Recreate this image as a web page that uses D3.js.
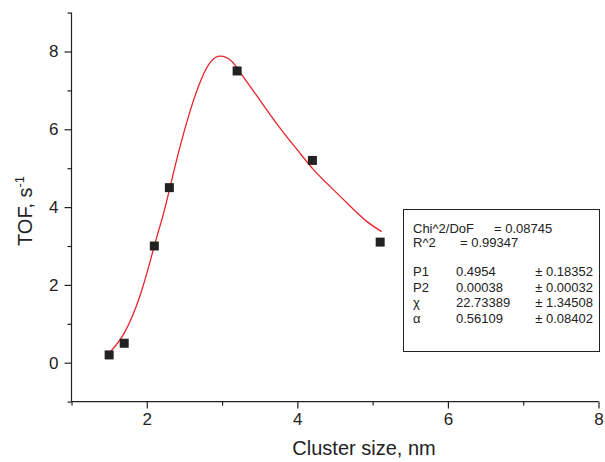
<!DOCTYPE html>
<meta charset="utf-8">
<style>
body { margin: 0; background: #fff; }
svg { display: block; font-family: "Liberation Sans", Arial, sans-serif; }
.axis line { stroke: #222; stroke-width: 1.2px; }
.axis text { font-size: 17px; fill: #222; }
.fit { fill: none; stroke: #e8232b; stroke-width: 1.3px; }
.pt { fill: #222; }
.box { fill: none; stroke: #222; stroke-width: 1px; }
.stats text { font-size: 13px; fill: #222; }
</style>
<svg width="605" height="462"></svg>
<script src="https://d3js.org/d3.v7.min.js"></script>
<script>
// measured points
var sizes = [1.5, 1.7, 2.1, 2.3, 3.2, 4.2, 5.1];
var tof = [0.2, 0.5, 3.0, 4.5, 7.5, 5.2, 3.1];

// fitted curve
var fitX = [1.51, 1.70, 1.92, 2.10, 2.21, 2.31, 2.43, 2.58, 2.72, 2.85, 2.98, 3.12, 3.25, 3.47, 3.74, 4.00, 4.22, 4.44, 4.71, 4.93, 5.12];
var fitY = [0.27, 0.76, 1.78, 3.00, 3.75, 4.52, 5.47, 6.50, 7.27, 7.74, 7.88, 7.76, 7.44, 6.84, 6.11, 5.47, 4.95, 4.52, 4.01, 3.62, 3.37];

var xMajor = [2, 4, 6, 8], xMinor = [1, 3, 5, 7];
var yMajor = [0, 2, 4, 6, 8], yMinor = [-1, 1, 3, 5, 7, 9];

var statsHead = [["Chi^2/DoF", "= 0.08745"], ["R^2", "= 0.99347"]];
var statsRows = [
  ["P1", "0.4954", "\u00b1 0.18352"],
  ["P2", "0.00038", "\u00b1 0.00032"],
  ["\u03c7", "22.73389", "\u00b1 1.34508"],
  ["\u03b1", "0.56109", "\u00b1 0.08402"]
];

var svg = d3.select("svg"),
    mLeft = 71.5, mTop = 12.6, w = 527, h = 389;

var x = d3.scaleLinear().domain([1, 8]).range([mLeft, mLeft + w]);
var y = d3.scaleLinear().domain([-1, 9]).range([mTop + h, mTop]);

function ax(g) { g.select(".domain").remove(); }

// x axis
svg.append("g").attr("class", "axis")
    .attr("transform", "translate(0," + (mTop + h) + ")")
    .call(d3.axisBottom(x).tickValues(xMajor).tickSize(7).tickPadding(4).tickFormat(d3.format("d")))
    .call(ax);
svg.append("g").attr("class", "axis")
    .attr("transform", "translate(0," + (mTop + h) + ")")
    .call(d3.axisBottom(x).tickValues(xMinor).tickSize(4).tickFormat(""))
    .call(ax);

// y axis
svg.append("g").attr("class", "axis")
    .attr("transform", "translate(" + mLeft + ",0)")
    .call(d3.axisLeft(y).tickValues(yMajor).tickSize(7).tickPadding(6).tickFormat(d3.format("d")))
    .call(ax);
svg.append("g").attr("class", "axis")
    .attr("transform", "translate(" + mLeft + ",0)")
    .call(d3.axisLeft(y).tickValues(yMinor).tickSize(4).tickFormat(""))
    .call(ax);

svg.append("line").attr("x1", mLeft).attr("x2", mLeft + w).attr("y1", mTop + h).attr("y2", mTop + h)
    .attr("stroke", "#222").attr("stroke-width", 1.2);
svg.append("line").attr("x1", mLeft).attr("x2", mLeft).attr("y1", mTop).attr("y2", mTop + h)
    .attr("stroke", "#222").attr("stroke-width", 1.2);

// titles
svg.append("text")
    .attr("x", 364).attr("y", 455)
    .attr("text-anchor", "middle")
    .style("font-size", "20px").style("fill", "#222")
    .text("Cluster size, nm");

var yt = svg.append("text")
    .attr("transform", "translate(32," + y(3.9) + ") rotate(-90)")
    .attr("text-anchor", "middle")
    .style("font-size", "20px").style("fill", "#222");
yt.append("tspan").text("TOF, s");
yt.append("tspan").attr("dy", -8).style("font-size", "13px").text("-1");

// fit curve
var line = d3.line()
    .x(function(d, i) { return x(fitX[i]); })
    .y(function(d, i) { return y(fitY[i]); })
    .curve(d3.curveNatural);
svg.append("path").datum(fitX).attr("class", "fit").attr("d", line);

// points
var s = 9;
svg.selectAll(".pt").data(sizes).enter().append("rect")
    .attr("class", "pt")
    .attr("x", function(d) { return x(d) - s / 2; })
    .attr("y", function(d, i) { return y(tof[i]) - s / 2; })
    .attr("width", s).attr("height", s);

// stats box
var st = svg.append("g").attr("class", "stats");
st.append("rect").attr("class", "box")
    .attr("x", 403.5).attr("y", 209.5).attr("width", 196).attr("height", 142);
st.append("text").attr("x", 413).attr("y", 233).text(statsHead[0][0]);
st.append("text").attr("x", 494).attr("y", 233).text(statsHead[0][1]);
st.append("text").attr("x", 413).attr("y", 247).text(statsHead[1][0]);
st.append("text").attr("x", 460).attr("y", 247).text(statsHead[1][1]);
statsRows.forEach(function(r, i) {
  var yy = 276 + i * 15.5;
  st.append("text").attr("x", 413).attr("y", yy).text(r[0]);
  st.append("text").attr("x", 456).attr("y", yy).text(r[1]);
  st.append("text").attr("x", 593).attr("y", yy).attr("text-anchor", "end").text(r[2]);
});
</script>
